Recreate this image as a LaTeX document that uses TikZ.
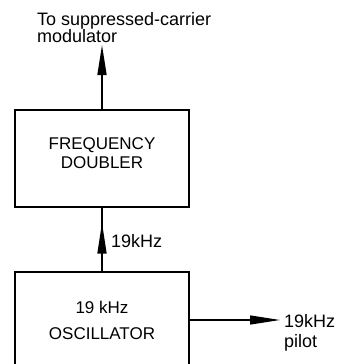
\documentclass[tikz,border=0pt]{standalone}
\usepackage{fontspec}
\setmainfont{Liberation Sans}
\usepackage{tikz}
\usetikzlibrary{arrows.meta,decorations.markings}

\begin{document}
\begin{tikzpicture}[x=1pt, y=1pt,
    block/.style={draw, line width=2.6pt, minimum width=174pt, minimum height=97pt,
                  inner sep=0pt, align=center, font=\fontsize{17}{19}\selectfont},
    lbl/.style={align=left, inner sep=0pt, font=\fontsize{18}{20}\selectfont},
    spike/.style={-{Triangle[length=30pt,width=9pt]}, line width=1.6pt},
    midspike/.style={line width=1.6pt, postaction={decorate},
                     decoration={markings, mark=at position 0.77 with
                       {\arrow{Triangle[length=31pt,width=9pt]}}}}]
    \clip (0,0) rectangle (339,-364);
    \node[block] (doubler) at (102,-158.5) {FREQUENCY\\DOUBLER\rule[-10pt]{0pt}{10pt}};
    \node[block, minimum height=96pt] (osc) at (102,-320) {19 kHz\\[7pt]OSCILLATOR};
    % output to the modulator
    \coordinate (modout) at (102,-45);
    \draw[spike] (doubler.north) -- (modout);
    \node[lbl, anchor=north west] (modlabel) at (37,-12) {To suppressed-carrier\\[-3pt]modulator};
    % 19 kHz into the doubler
    \draw[midspike] (osc.north) -- (doubler.south);
    \node[lbl, anchor=west] (midlabel) at (111,-241) {19kHz};
    % pilot out
    \coordinate (pilotend) at (280,-320);
    \draw[spike, line width=1.3pt] (osc.east) -- (pilotend);
    \node[lbl, anchor=north west] (pilotlabel) at (284,-314) {19kHz\\pilot};
  \end{tikzpicture}
\end{document}
